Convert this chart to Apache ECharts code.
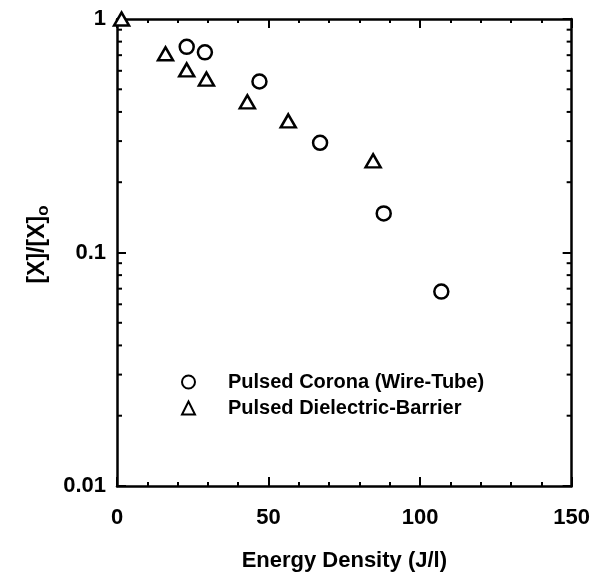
<!DOCTYPE html>
<html>
<head>
<meta charset="utf-8">
<script src="https://cdn.jsdelivr.net/npm/echarts@6/dist/echarts.min.js"></script>
<style>
  html, body { margin: 0; padding: 0; background: #fff; }
  #main { width: 593px; height: 577px; }
</style>
</head>
<body>
<div id="main"></div>
<script>
var coronaX = [23, 29, 47, 67, 88, 107];
var coronaY = [0.76, 0.72, 0.54, 0.295, 0.147, 0.068];
var dbdX = [1.5, 16, 23, 29.5, 43, 56.5, 84.5];
var dbdY = [1.0, 0.71, 0.605, 0.553, 0.442, 0.366, 0.247];
var xTicks = [0, 50, 100, 150];
var yTicks = [0.01, 0.1, 1];
var logMinor = [0.02, 0.03, 0.04, 0.05, 0.06, 0.07, 0.08, 0.09,
                0.2, 0.3, 0.4, 0.5, 0.6, 0.7, 0.8, 0.9];

var FONT = 'Liberation Sans';
var myChart = echarts.init(document.getElementById('main'));

function pairs(xs, ys) {
    return xs.map(function (x, i) { return [x, ys[i]]; });
}

var baseX = {
    type: 'value',
    min: xTicks[0],
    max: xTicks[xTicks.length - 1],
    interval: 50,
    splitLine: { show: false },
    axisLine: { onZero: false, lineStyle: { color: '#000', width: 2.5 } },
    axisTick: { inside: true, length: 9, lineStyle: { color: '#000', width: 2 } },
    minorTick: { show: true, splitNumber: 5, length: 4, lineStyle: { color: '#000', width: 2 } }
};
var baseY = {
    type: 'log',
    logBase: 10,
    min: yTicks[0],
    max: yTicks[yTicks.length - 1],
    splitLine: { show: false },
    axisLine: { onZero: false, lineStyle: { color: '#000', width: 2.5 } },
    axisTick: { inside: true, length: 9, lineStyle: { color: '#000', width: 2 } }
};

var option = {
    animation: false,
    backgroundColor: '#fff',
    grid: { left: 117, right: 21, top: 19, bottom: 90 },
    legend: {
        orient: 'vertical',
        left: 181,
        top: 372,
        padding: 0,
        itemWidth: 13,
        itemHeight: 13,
        itemGap: 6,
        textStyle: { fontFamily: FONT, fontWeight: 'bold', fontSize: 20, color: '#000', padding: [0, 0, 0, 28] },
        data: [
            { name: 'Pulsed Corona (Wire-Tube)', icon: 'circle' },
            { name: 'Pulsed Dielectric-Barrier', icon: 'triangle' }
        ]
    },
    xAxis: [
        Object.assign({}, baseX, {
            position: 'bottom',
            name: 'Energy Density (J/l)',
            nameLocation: 'middle',
            nameGap: 64,
            nameTextStyle: { fontFamily: FONT, fontWeight: 'bold', fontSize: 22, color: '#000' },
            axisLabel: {
                margin: 21,
                fontFamily: FONT, fontWeight: 'bold', fontSize: 22, color: '#000'
            }
        }),
        Object.assign({}, baseX, { position: 'top', axisLabel: { show: false } })
    ],
    yAxis: [
        Object.assign({}, baseY, {
            position: 'left',
            name: '{a|[X]/[X]}{s|o}',
            nameLocation: 'middle',
            nameGap: 62,
            nameTextStyle: {
                padding: [0, 0, 0, 16],
                rich: {
                    a: { fontFamily: FONT, fontWeight: 'bold', fontSize: 23, color: '#000', lineHeight: 30 },
                    s: { fontFamily: FONT, fontWeight: 'bold', fontSize: 17, color: '#000',
                         lineHeight: 30, verticalAlign: 'bottom', padding: [10, 0, 0, 0] }
                }
            },
            axisLabel: {
                margin: 11,
                fontFamily: FONT, fontWeight: 'bold', fontSize: 22, color: '#000',
                formatter: function (v) { return String(v); }
            }
        }),
        Object.assign({}, baseY, { position: 'right', axisLabel: { show: false } })
    ],
    series: [
        {
            name: 'Pulsed Corona (Wire-Tube)',
            type: 'scatter',
            symbol: 'circle',
            symbolSize: 14,
            clip: false,
            itemStyle: { color: '#fff', borderColor: '#000', borderWidth: 2.5, opacity: 1 },
            data: pairs(coronaX, coronaY)
        },
        {
            name: 'Pulsed Dielectric-Barrier',
            type: 'scatter',
            symbol: 'triangle',
            symbolSize: [15, 13],
            clip: false,
            itemStyle: { color: '#fff', borderColor: '#000', borderWidth: 2.5, opacity: 1 },
            data: pairs(dbdX, dbdY)
        },
        {
            // log-decade minor ticks on left and right frame
            type: 'custom',
            silent: true,
            clip: false,
            data: logMinor.map(function (v) { return [xTicks[0], v]; }),
            renderItem: function (params, api) {
                var v = api.value(1);
                var l = api.coord([xTicks[0], v]);
                var r = api.coord([xTicks[xTicks.length - 1], v]);
                var st = { stroke: '#000', lineWidth: 2 };
                return {
                    type: 'group',
                    children: [
                        { type: 'line', shape: { x1: l[0], y1: l[1], x2: l[0] + 5, y2: l[1] }, style: st },
                        { type: 'line', shape: { x1: r[0], y1: r[1], x2: r[0] - 5, y2: r[1] }, style: st }
                    ]
                };
            }
        }
    ]
};
myChart.setOption(option);
</script>
</body>
</html>
